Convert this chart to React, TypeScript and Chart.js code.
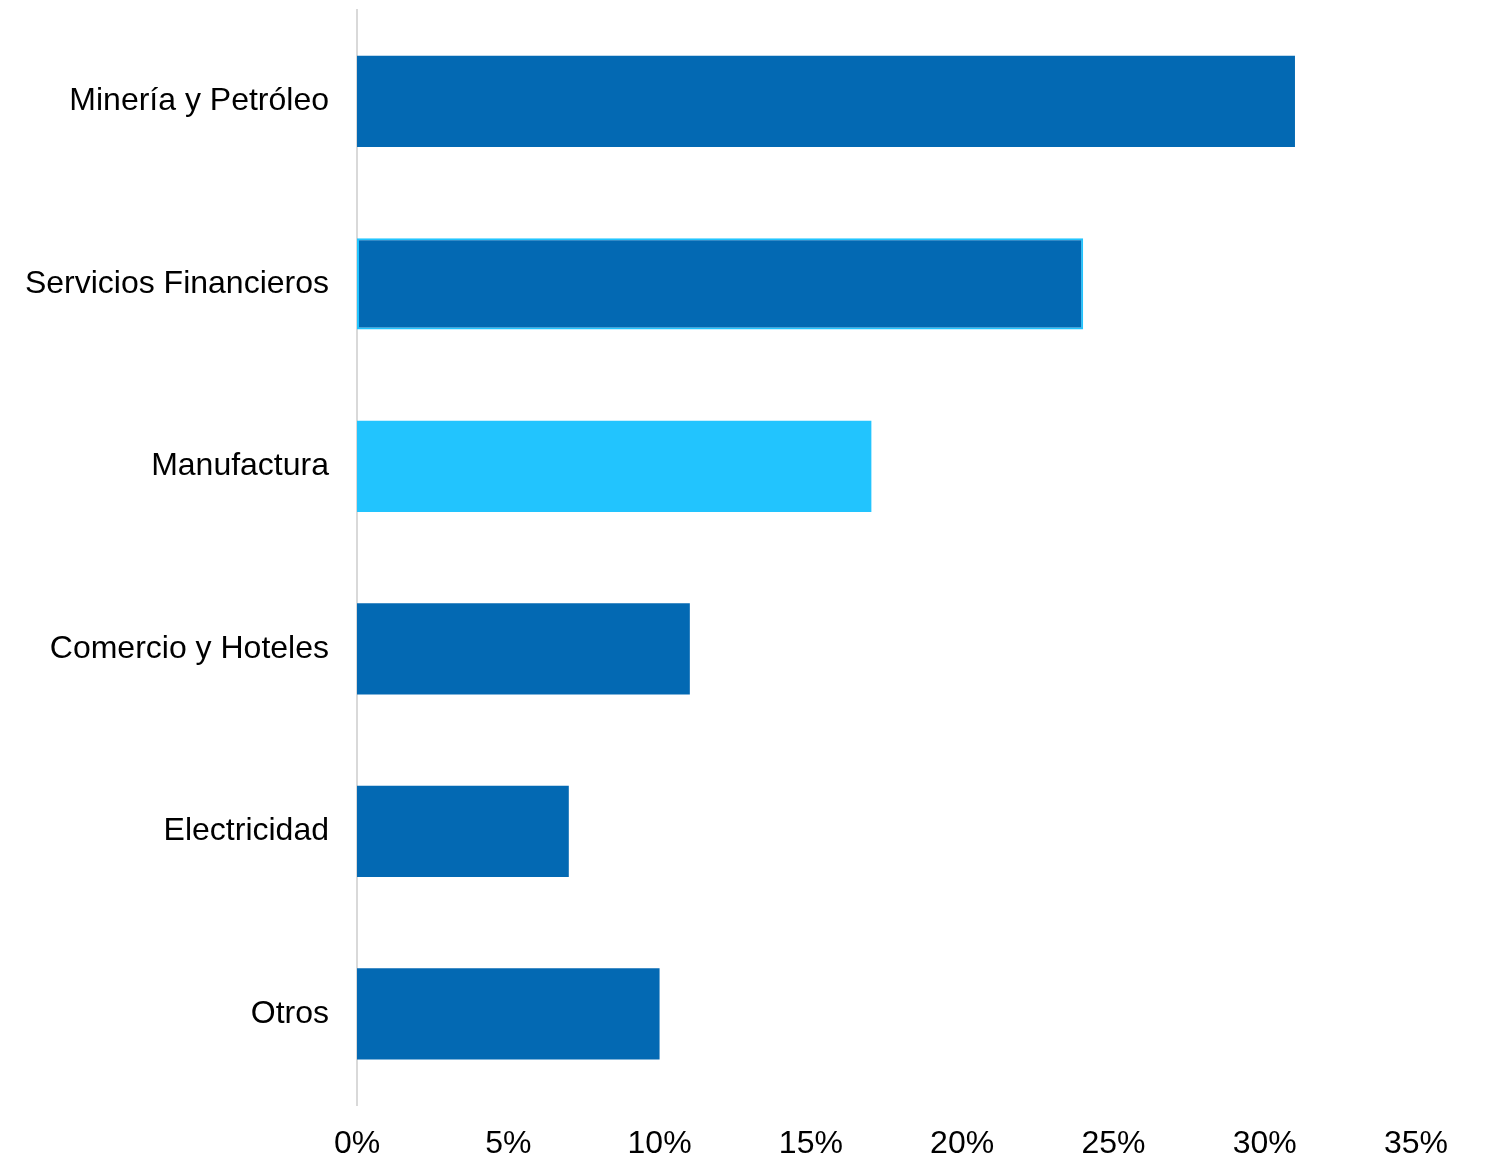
import React, { useEffect, useRef } from "react";
import { Chart, registerables } from "chart.js";

Chart.register(...registerables);

const categories = [
  "Minería y Petróleo",
  "Servicios Financieros",
  "Manufactura",
  "Comercio y Hoteles",
  "Electricidad",
  "Otros",
];
const values = [31, 24, 17, 11, 7, 10];
const barColors = ["#0369B3", "#0369B3", "#22C4FE", "#0369B3", "#0369B3", "#0369B3"];
const borderColors = ["#0369B3", "#22C4FE", "#22C4FE", "#0369B3", "#0369B3", "#0369B3"];
const borderWidths = [0, 2, 0, 0, 0, 0];
const xMin = 0;
const xMax = 35;
const xStep = 5;

export default function App() {
  const ref = useRef<HTMLCanvasElement | null>(null);
  useEffect(() => {
    if (!ref.current) return;
    const font = { family: "'Liberation Sans', Arial, sans-serif", size: 32 };
    const chart = new Chart(ref.current, {
      type: "bar",
      data: {
        labels: categories,
        datasets: [
          {
            data: values,
            backgroundColor: barColors,
            borderColor: borderColors,
            borderWidth: borderWidths,
            borderSkipped: false,
            categoryPercentage: 1,
            barPercentage: 0.5,
          },
        ],
      },
      options: {
        indexAxis: "y",
        animation: false,
        responsive: false,
        maintainAspectRatio: false,
        layout: { padding: { top: 10, right: 73, left: 0, bottom: 0 } },
        plugins: { legend: { display: false }, tooltip: { enabled: false } },
        scales: {
          x: {
            min: xMin,
            max: xMax,
            grid: { display: false, drawTicks: false },
            border: { display: false },
            ticks: {
              stepSize: xStep,
              padding: 20,
              color: "#000000",
              font,
              maxRotation: 0,
              callback: (v: any) => `${v}%`,
            },
            afterFit: (s: any) => {
              s.height = 52;
              s.paddingLeft = 0;
              s.paddingRight = 0;
            },
          },
          y: {
            grid: { display: false, drawTicks: true, tickLength: 25 },
            border: { display: true, color: "#D9D9D9", width: 2 },
            ticks: { padding: 3, color: "#000000", font },
            afterFit: (s: any) => {
              s.width = 357;
              s.paddingTop = 0;
              s.paddingBottom = 0;
            },
          },
        },
      },
    });
    return () => chart.destroy();
  }, []);
  return (
    <div style={{ position: "absolute", left: 0, top: 0, width: 1489, height: 1157, background: "#fff" }}>
      <canvas ref={ref} width={1489} height={1157} style={{ width: 1489, height: 1157, display: "block" }} />
    </div>
  );
}
